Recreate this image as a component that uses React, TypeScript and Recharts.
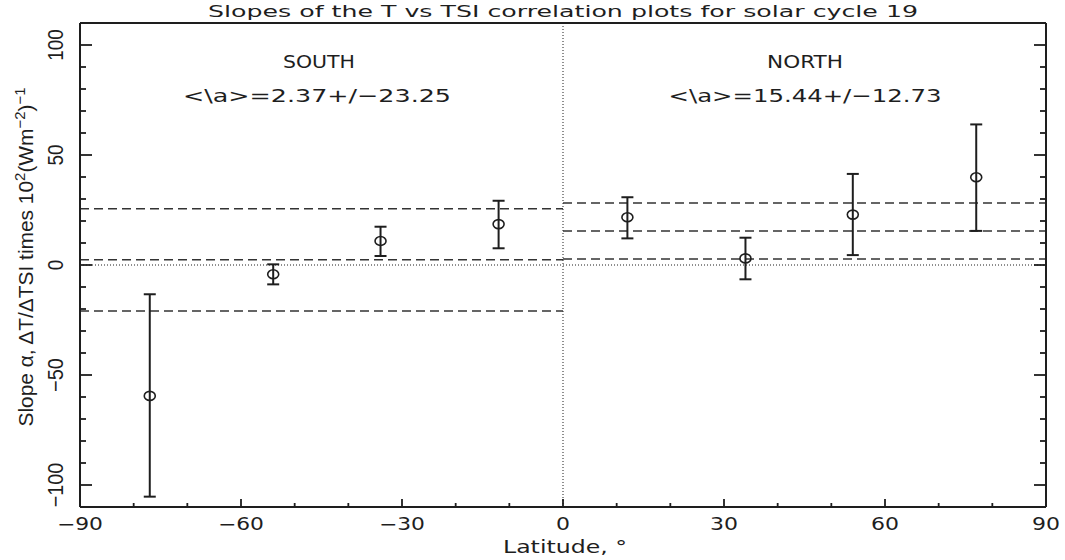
import React from "react";
import {
  ComposedChart,
  Scatter,
  ErrorBar,
  XAxis,
  YAxis,
  ReferenceLine,
} from "recharts";

// latitude bands (deg) and fitted slopes
const latitudes = [-77, -54, -34, -12, 12, 34, 54, 77];
const slopes = [-59.5, -4.2, 10.9, 18.6, 21.7, 3.0, 22.9, 39.9];
const slopeLow = [-105.3, -8.8, 4.1, 7.6, 12.1, -6.5, 4.5, 15.5];
const slopeHigh = [-13.3, 0.3, 17.4, 29.2, 30.8, 12.4, 41.4, 63.9];

// hemisphere means +/- std
const hemispheres = ["SOUTH", "NORTH"];
const hemiMean = [2.37, 15.44];
const hemiStd = [23.25, 12.73];
const hemiRange = [
  [-90, 0],
  [0, 90],
];

const xTicks = [-90, -80, -70, -60, -50, -40, -30, -20, -10, 0, 10, 20, 30, 40, 50, 60, 70, 80, 90];
const yTicks = [-100, -90, -80, -70, -60, -50, -40, -30, -20, -10, 0, 10, 20, 30, 40, 50, 60, 70, 80, 90, 100];

const INK = "#1e1e1e";
const FONT = "'DejaVu Sans', sans-serif";
const NARROW = "'Liberation Sans', Arial, sans-serif";

const points = latitudes.map((lat, i) => ({
  lat,
  slope: slopes[i],
  err: [slopes[i] - slopeLow[i], slopeHigh[i] - slopes[i]],
}));

const fmt = (v: number) => (v < 0 ? "\u2212" : "") + Math.abs(v);

const BottomTick = (props: any) => {
  const { x, y, payload } = props;
  const v = payload.value;
  const major = v % 30 === 0;
  const s = fmt(v);
  const len = (v < 0 ? 18 : 0) + 14 * String(Math.abs(v)).length;
  return (
    <g>
      <line x1={x} x2={x} y1={y} y2={y - (major ? 8 : 4)} stroke={INK} strokeWidth={1.8} />
      {major && (
        <text x={x} y={y + 23} textAnchor="middle" fontFamily={FONT} fontSize={17} fill={INK}
          textLength={len} lengthAdjust="spacingAndGlyphs">
          {s}
        </text>
      )}
    </g>
  );
};

const TopTick = (props: any) => {
  const { x, y, payload } = props;
  const major = payload.value % 30 === 0;
  return <line x1={x} x2={x} y1={y} y2={y + (major ? 8 : 4)} stroke={INK} strokeWidth={1.8} />;
};

const LeftTick = (props: any) => {
  const { x, y, payload } = props;
  const v = payload.value;
  const major = v % 50 === 0;
  const len = (v < 0 ? 13 : 0) + 10.5 * String(Math.abs(v)).length;
  return (
    <g>
      <line x1={x} x2={x + (major ? 12 : 6)} y1={y} y2={y} stroke={INK} strokeWidth={1.8} />
      {major && (
        <text transform={`translate(${x - 17},${y}) rotate(-90)`} textAnchor="middle"
          fontFamily={NARROW} fontSize={22} fill={INK} textLength={len} lengthAdjust="spacingAndGlyphs">
          {fmt(v)}
        </text>
      )}
    </g>
  );
};

const RightTick = (props: any) => {
  const { x, y, payload } = props;
  const major = payload.value % 50 === 0;
  return <line x1={x} x2={x - (major ? 12 : 6)} y1={y} y2={y} stroke={INK} strokeWidth={1.8} />;
};

const Ring = (props: any) => {
  const { cx, cy } = props;
  return <ellipse cx={cx} cy={cy} rx={5.5} ry={4.5} fill="none" stroke={INK} strokeWidth={1.6} />;
};

const App = () => {
  return (
    <div style={{ position: "absolute", left: 0, top: 0, width: 1065, height: 560, background: "#fff" }}>
      <ComposedChart
        width={1065}
        height={560}
        data={points}
        margin={{ top: 22, right: 18, bottom: 23, left: 20 }}
      >
        <XAxis dataKey="lat" type="number" domain={[-90, 90]} ticks={xTicks} interval={0}
          allowDataOverflow height={30} tickSize={0} tickMargin={0} tickLine={false}
          axisLine={{ stroke: INK, strokeWidth: 2 }} tick={<BottomTick />} />
        <XAxis xAxisId="top" orientation="top" type="number" domain={[-90, 90]} ticks={xTicks}
          interval={0} allowDataOverflow height={1} tickSize={0} tickMargin={0} tickLine={false}
          axisLine={{ stroke: INK, strokeWidth: 2 }} tick={<TopTick />} />
        <YAxis dataKey="slope" type="number" domain={[-110, 110]} ticks={yTicks} interval={0}
          allowDataOverflow width={60} tickSize={0} tickMargin={0} tickLine={false}
          axisLine={{ stroke: INK, strokeWidth: 2 }} tick={<LeftTick />} />
        <YAxis yAxisId="right" orientation="right" type="number" domain={[-110, 110]} ticks={yTicks}
          interval={0} allowDataOverflow width={1} tickSize={0} tickMargin={0} tickLine={false}
          axisLine={{ stroke: INK, strokeWidth: 2 }} tick={<RightTick />} />

        <ReferenceLine y={0} stroke={INK} strokeWidth={1} strokeDasharray="1 2" />
        <ReferenceLine x={0} stroke={INK} strokeWidth={1} strokeDasharray="1 2" />

        {hemispheres.map((h, i) =>
          [hemiMean[i] + hemiStd[i], hemiMean[i], hemiMean[i] - hemiStd[i]].map((val, j) => (
            <ReferenceLine
              key={`${h}-${j}`}
              segment={[
                { x: hemiRange[i][0], y: val },
                { x: hemiRange[i][1], y: val },
              ]}
              stroke="#333"
              strokeWidth={1.5}
              strokeDasharray="9 5"
            />
          ))
        )}

        <Scatter data={points} dataKey="slope" shape={<Ring />} isAnimationActive={false}>
          <ErrorBar dataKey="err" direction="y" width={6} stroke={INK} strokeWidth={2} />
        </Scatter>
      </ComposedChart>

      <svg width={1065} height={560} style={{ position: "absolute", left: 0, top: 0, pointerEvents: "none" }}>
        <text x={563} y={17} textAnchor="middle" fontFamily={FONT} fontSize={16} fill={INK}
          textLength={710} lengthAdjust="spacingAndGlyphs">
          Slopes of the T vs TSI correlation plots for solar cycle 19
        </text>
        <text x={319} y={68} textAnchor="middle" fontFamily={FONT} fontSize={18} fill={INK}
          textLength={72} lengthAdjust="spacingAndGlyphs">
          {hemispheres[0]}
        </text>
        <text x={317} y={102} textAnchor="middle" fontFamily={FONT} fontSize={18} fill={INK}
          textLength={268} lengthAdjust="spacingAndGlyphs">
          {`<\\a>=${hemiMean[0].toFixed(2)}+/\u2212${hemiStd[0].toFixed(2)}`}
        </text>
        <text x={805} y={68} textAnchor="middle" fontFamily={FONT} fontSize={18} fill={INK}
          textLength={76} lengthAdjust="spacingAndGlyphs">
          {hemispheres[1]}
        </text>
        <text x={805} y={102} textAnchor="middle" fontFamily={FONT} fontSize={18} fill={INK}
          textLength={273} lengthAdjust="spacingAndGlyphs">
          {`<\\a>=${hemiMean[1].toFixed(2)}+/\u2212${hemiStd[1].toFixed(2)}`}
        </text>
        <text x={565} y={553} textAnchor="middle" fontFamily={FONT} fontSize={17} fill={INK}
          textLength={124} lengthAdjust="spacingAndGlyphs">
          Latitude, °
        </text>
        <text transform="translate(33,257) rotate(-90)" textAnchor="middle" fontFamily={NARROW}
          fontSize={21} fill={INK} textLength={339} lengthAdjust="spacingAndGlyphs">
          Slope α, ΔT/ΔTSI times 10
          <tspan fontSize={15} dy={-8}>2</tspan>
          <tspan fontSize={21} dy={8}>(Wm</tspan>
          <tspan fontSize={15} dy={-8}>{"\u22122"}</tspan>
          <tspan fontSize={21} dy={8}>)</tspan>
          <tspan fontSize={15} dy={-8}>{"\u22121"}</tspan>
        </text>
      </svg>
    </div>
  );
};

export default App;
